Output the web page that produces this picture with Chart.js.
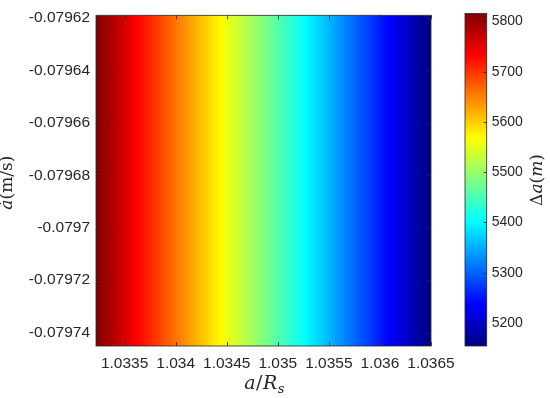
<!DOCTYPE html>
<html>
<head>
<meta charset="utf-8">
<script src="https://cdn.jsdelivr.net/npm/chart.js@4/dist/chart.umd.min.js"></script>
<style>
html,body{margin:0;padding:0;background:#fff;}
#wrap{position:relative;width:550px;height:398px;overflow:hidden;}
canvas{position:absolute;top:0;}
</style>
</head>
<body>
<div id="wrap">
<canvas id="main" width="550" height="398" style="left:0"></canvas>
<canvas id="cbar" width="110" height="398" style="left:440px"></canvas>
</div>
<script>
// ---- data ----
const aGrid = [1.0332, 1.0333, 1.0334, 1.0335, 1.0336, 1.0337, 1.0338, 1.0339, 1.0340, 1.0341,
               1.0342, 1.0343, 1.0344, 1.0345, 1.0346, 1.0347, 1.0348, 1.0349, 1.0350, 1.0351,
               1.0352, 1.0353, 1.0354, 1.0355, 1.0356, 1.0357, 1.0358, 1.0359, 1.0360, 1.0361,
               1.0362, 1.0363, 1.0364, 1.0365];
const deltaA = [5820, 5800, 5780, 5759, 5739, 5719, 5699, 5679, 5658, 5638,
                5618, 5598, 5578, 5557, 5537, 5517, 5497, 5477, 5456, 5436,
                5416, 5396, 5376, 5356, 5335, 5315, 5295, 5275, 5255, 5234,
                5214, 5194, 5174, 5154];
const xRange = [1.03322, 1.0365];
const yRange = [-0.0797451, -0.079619];
const xTicks = [1.0335, 1.034, 1.0345, 1.035, 1.0355, 1.036, 1.0365];
const yTicks = [-0.07974, -0.07972, -0.0797, -0.07968, -0.07966, -0.07964, -0.07962];
const colorLimits = [5154, 5816];
const cbarTicks = [5200, 5300, 5400, 5500, 5600, 5700, 5800];

// ---- helpers ----
const TXT = '#262626';
const SANS = '"Liberation Sans", Arial, Helvetica, sans-serif';
const SERIF = '"DejaVu Serif", "Liberation Serif", serif';

function jet(t) {
  t = Math.min(1, Math.max(0, t));
  const c = v => Math.round(255 * Math.min(1, Math.max(0, v)));
  return 'rgb(' + c(1.5 - Math.abs(4 * t - 3)) + ',' + c(1.5 - Math.abs(4 * t - 2)) + ',' + c(1.5 - Math.abs(4 * t - 1)) + ')';
}
function norm(v) { return (v - colorLimits[0]) / (colorLimits[1] - colorLimits[0]); }

function drawRich(ctx, segs, x, y, rot, size, spacing) {
  ctx.save();
  ctx.translate(x, y);
  ctx.rotate(rot);
  ctx.fillStyle = TXT;
  ctx.textBaseline = 'middle';
  if ('letterSpacing' in ctx) ctx.letterSpacing = (spacing || 0) + 'px';
  const fontFor = s => (s.i ? 'italic ' : '') + (s.sub ? Math.round(size * 0.7) : size) + 'px ' + SERIF;
  let w = 0;
  segs.forEach(s => { ctx.font = fontFor(s); s.w = ctx.measureText(s.t).width; w += s.w; });
  let cx = -w / 2;
  segs.forEach(s => { ctx.font = fontFor(s); ctx.fillText(s.t, cx, s.sub ? size * 0.3 : 0); cx += s.w; });
  ctx.restore();
}

// ---- heatmap cells (constant along y) ----
const cells = [];
for (let i = 0; i < aGrid.length - 1; i++) {
  cells.push({ x: (aGrid[i] + aGrid[i + 1]) / 2, y: [yRange[0], yRange[1]] });
}

const boxPlugin = {
  id: 'box',
  afterDraw(chart) {
    const { ctx, chartArea: a } = chart;
    const xs = chart.scales.x, ys = chart.scales.y;
    ctx.save();
    ctx.strokeStyle = TXT;
    ctx.lineWidth = 0.8;
    ctx.beginPath();
    xs.ticks.forEach(t => {
      const px = Math.round(xs.getPixelForValue(t.value)) + 0.5;
      ctx.moveTo(px, a.top); ctx.lineTo(px, a.top + 4);
      ctx.moveTo(px, a.bottom); ctx.lineTo(px, a.bottom - 4);
    });
    ys.ticks.forEach(t => {
      const py = Math.round(ys.getPixelForValue(t.value)) + 0.5;
      ctx.moveTo(a.left, py); ctx.lineTo(a.left + 4, py);
      ctx.moveTo(a.right, py); ctx.lineTo(a.right - 4, py);
    });
    ctx.stroke();
    ctx.strokeRect(a.left, a.top, a.right - a.left, a.bottom - a.top);
    ctx.restore();
    // axis titles
    drawRich(ctx, [{ t: 'a', i: true }, { t: '/', i: false }, { t: 'R', i: true }, { t: 's', i: true, sub: true }],
      (a.left + a.right) / 2 + 1, 384, 0, 19, 0.5);
    drawRich(ctx, [{ t: 'ȧ', i: true }, { t: '(m/s)', i: false }],
      8, (a.top + a.bottom) / 2 + 2, -Math.PI / 2, 17, 0);
  }
};

new Chart(document.getElementById('main'), {
  type: 'bar',
  data: {
    datasets: [{
      data: cells,
      borderWidth: 0,
      barPercentage: 1.15,
      categoryPercentage: 1,
      clip: 0,
      backgroundColor(ctx) {
        const ch = ctx.chart;
        if (ctx.type !== 'data' || !ch.chartArea) return '#888';
        const i = ctx.dataIndex;
        const xs = ch.scales.x;
        const x0 = xs.getPixelForValue(aGrid[i]);
        const x1 = xs.getPixelForValue(aGrid[i + 1]);
        const g = ch.ctx.createLinearGradient(x0, 0, x1, 0);
        for (let k = 0; k <= 4; k++) {
          const f = k / 4;
          const v = deltaA[i] + (deltaA[i + 1] - deltaA[i]) * f;
          g.addColorStop(f, jet(norm(v)));
        }
        return g;
      }
    }]
  },
  options: {
    responsive: false,
    animation: false,
    devicePixelRatio: 1,
    layout: { padding: { top: 9, right: 119, left: 0, bottom: 0 } },
    plugins: { legend: { display: false }, tooltip: { enabled: false } },
    scales: {
      x: {
        type: 'linear', min: xRange[0], max: xRange[1], offset: false,
        grid: { display: false, drawTicks: false, offset: false },
        border: { display: false },
        afterBuildTicks: s => { s.ticks = xTicks.map(v => ({ value: v })); },
        afterFit: s => { s.height = 52; },
        ticks: {
          autoSkip: false, maxRotation: 0, padding: 8, color: TXT,
          font: { family: SANS, size: 15.5 },
          callback: v => String(parseFloat(Number(v).toPrecision(8)))
        }
      },
      y: {
        type: 'linear', min: yRange[0], max: yRange[1],
        grid: { display: false, drawTicks: false },
        border: { display: false },
        afterBuildTicks: s => { s.ticks = yTicks.map(v => ({ value: v })); },
        afterFit: s => { s.width = 96; },
        ticks: {
          autoSkip: false, padding: 6, color: TXT,
          font: { family: SANS, size: 15.5 },
          callback: v => String(parseFloat(Number(v).toPrecision(8)))
        }
      }
    }
  },
  plugins: [boxPlugin]
});

// ---- colorbar ----
const cbarPlugin = {
  id: 'cbox',
  afterDraw(chart) {
    const { ctx, chartArea: a } = chart;
    const ys = chart.scales.y;
    ctx.save();
    ctx.strokeStyle = TXT;
    ctx.lineWidth = 0.8;
    ctx.beginPath();
    ys.ticks.forEach(t => {
      const py = Math.round(ys.getPixelForValue(t.value)) + 0.5;
      ctx.moveTo(a.right, py); ctx.lineTo(a.right - 3, py);
    });
    ctx.stroke();
    ctx.strokeRect(a.left, a.top, a.right - a.left, a.bottom - a.top);
    ctx.restore();
    drawRich(ctx, [{ t: 'Δ', i: false }, { t: 'a', i: true }, { t: '(', i: false }, { t: 'm', i: true }, { t: ')', i: false }],
      98, 180, -Math.PI / 2, 17, 0);
  }
};

new Chart(document.getElementById('cbar'), {
  type: 'bar',
  data: {
    labels: ['c'],
    datasets: [{
      data: [[colorLimits[0], colorLimits[1]]],
      borderWidth: 0,
      barPercentage: 1,
      categoryPercentage: 1,
      backgroundColor(ctx) {
        const ch = ctx.chart;
        if (ctx.type !== 'data' || !ch.chartArea) return '#888';
        const ys = ch.scales.y;
        const y0 = ys.getPixelForValue(colorLimits[0]);
        const y1 = ys.getPixelForValue(colorLimits[1]);
        const g = ch.ctx.createLinearGradient(0, y0, 0, y1);
        for (let k = 0; k <= 16; k++) g.addColorStop(k / 16, jet(k / 16));
        return g;
      }
    }]
  },
  options: {
    responsive: false,
    animation: false,
    devicePixelRatio: 1,
    layout: { padding: { top: 9, left: 25, bottom: 52, right: 0 } },
    plugins: { legend: { display: false }, tooltip: { enabled: false } },
    scales: {
      x: { display: false },
      y: {
        position: 'right', min: colorLimits[0], max: colorLimits[1],
        grid: { display: false, drawTicks: false },
        border: { display: false },
        afterBuildTicks: s => { s.ticks = cbarTicks.map(v => ({ value: v })); },
        afterFit: s => { s.width = 63.3; },
        ticks: {
          autoSkip: false, padding: 5, color: TXT,
          font: { family: SANS, size: 14 },
          callback: v => String(v)
        }
      }
    }
  },
  plugins: [cbarPlugin]
});
</script>
</body>
</html>
